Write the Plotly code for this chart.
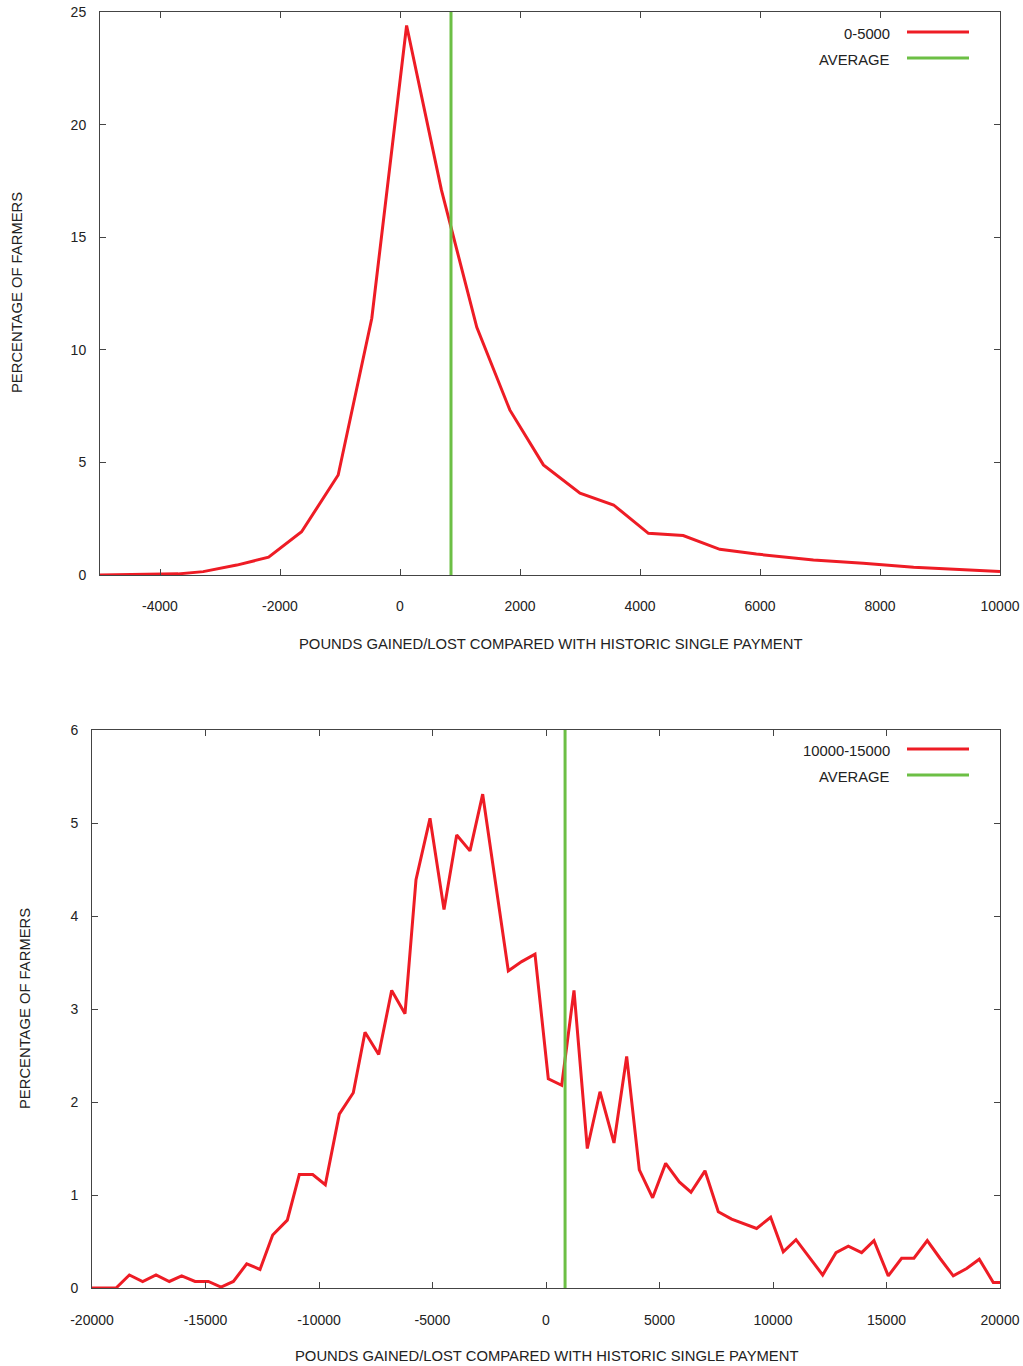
import plotly.graph_objects as go

# ---------------- data ----------------
TOP_NAME = "0-5000"
TOP_X = [-5000, -4230, -3700, -3280, -2720, -2190, -1640, -1030, -470, 110, 690,
         1280, 1830, 2390, 3000, 3560, 4140, 4720, 5330, 5940, 6890, 7720, 8560, 10000]
TOP_Y = [0, 0.02, 0.05, 0.15, 0.44, 0.79, 1.92, 4.44, 11.4, 24.4, 17.1,
         11.0, 7.33, 4.89, 3.63, 3.11, 1.85, 1.75, 1.14, 0.93, 0.67, 0.52, 0.34, 0.15]
TOP_AVG = 850

BOT_NAME = "10000-15000"
BOT_X = [-20000, -18940, -18354, -17768, -17180, -16594, -16050, -15460, -14874, -14315,
         -13772, -13184, -12599, -12040, -11396, -10868, -10278, -9722, -9106, -8489,
         -7973, -7370, -6798, -6211, -5727, -5110, -4493, -3934, -3348, -2789, -2220,
         -1660, -1071, -485, 101, 692, 1233, 1819, 2379, 2995, 3554, 4111, 4698, 5271,
         5872, 6387, 7004, 7590, 8178, 9279, 9896, 10453, 11013, 11600, 12188, 12775,
         13317, 13905, 14448, 15078, 15665, 16208, 16796, 17355, 17942, 18530, 19087,
         19704, 20000]
BOT_Y = [0, 0, 0.14, 0.07, 0.14, 0.07, 0.13, 0.07, 0.07, 0.01,
         0.07, 0.26, 0.20, 0.57, 0.73, 1.22, 1.22, 1.11, 1.87, 2.10,
         2.75, 2.51, 3.20, 2.95, 4.39, 5.05, 4.07, 4.87, 4.70, 5.31, 4.35,
         3.41, 3.51, 3.59, 2.25, 2.18, 3.20, 1.50, 2.11, 1.56, 2.49, 1.27, 0.97, 1.34,
         1.14, 1.03, 1.26, 0.82, 0.74, 0.64, 0.76, 0.39, 0.52, 0.33, 0.14, 0.38,
         0.45, 0.38, 0.51, 0.13, 0.32, 0.32, 0.51, 0.32, 0.13, 0.21, 0.31,
         0.06, 0.06]
BOT_AVG = 840

AVG_NAME = "AVERAGE"
X_TITLE = "POUNDS GAINED/LOST COMPARED WITH HISTORIC SINGLE PAYMENT"
Y_TITLE = "PERCENTAGE OF FARMERS"

TOP_XTICKS = [-4000, -2000, 0, 2000, 4000, 6000, 8000, 10000]
TOP_YTICKS = [0, 5, 10, 15, 20, 25]
BOT_XTICKS = [-20000, -15000, -10000, -5000, 0, 5000, 10000, 15000, 20000]
BOT_YTICKS = [0, 1, 2, 3, 4, 5, 6]

# ---------------- style ----------------
W, H = 1023, 1366
RED = "#ee1c25"
GREEN = "#6cbf45"
FONT = "Liberation Sans, Arial, sans-serif"
TXT = "#222222"
AX = "#444444"


def px(x):
    return x / W


def py(y):
    return 1 - y / H


def labels(vals):
    return [str(v) for v in vals]


fig = go.Figure()
fig.add_trace(go.Scatter(x=TOP_X, y=TOP_Y, mode="lines", name=TOP_NAME,
                         line=dict(color=RED, width=3), xaxis="x", yaxis="y",
                         showlegend=False))
fig.add_trace(go.Scatter(x=BOT_X, y=BOT_Y, mode="lines", name=BOT_NAME,
                         line=dict(color=RED, width=3), xaxis="x2", yaxis="y2",
                         showlegend=False))

axis_common = dict(showline=True, linecolor=AX, linewidth=1, mirror="ticks",
                   ticks="inside", ticklen=6, tickcolor=AX, tickwidth=1,
                   showgrid=False, zeroline=False, automargin=False,
                   tickfont=dict(family=FONT, size=14, color=TXT))

fig.update_layout(
    width=W, height=H,
    margin=dict(l=0, r=0, t=0, b=0),
    paper_bgcolor="white", plot_bgcolor="white",
    xaxis=dict(domain=[px(100), px(1000)], range=[-5000, 10000], tickvals=TOP_XTICKS,
               ticktext=labels(TOP_XTICKS), anchor="y", ticklabelstandoff=18, **axis_common),
    yaxis=dict(domain=[py(575), py(12)], range=[0, 25], tickvals=TOP_YTICKS,
               ticktext=labels(TOP_YTICKS), anchor="x", ticklabelstandoff=10, **axis_common),
    xaxis2=dict(domain=[px(92), px(1000)], range=[-20000, 20000], tickvals=BOT_XTICKS,
                ticktext=labels(BOT_XTICKS), anchor="y2", ticklabelstandoff=19, **axis_common),
    yaxis2=dict(domain=[py(1288), py(730)], range=[0, 6], tickvals=BOT_YTICKS,
                ticktext=labels(BOT_YTICKS), anchor="x2", ticklabelstandoff=10, **axis_common),
)

# average lines (full plot height)
fig.add_shape(type="line", xref="x", yref="y domain", x0=TOP_AVG, x1=TOP_AVG,
              y0=0, y1=1, line=dict(color=GREEN, width=3))
fig.add_shape(type="line", xref="x2", yref="y2 domain", x0=BOT_AVG, x1=BOT_AVG,
              y0=0, y1=1, line=dict(color=GREEN, width=3))

ann_font = dict(family=FONT, size=14.8, color=TXT)
# axis titles
fig.add_annotation(text=X_TITLE, x=px(550), y=py(644), xref="paper", yref="paper",
                   showarrow=False, font=ann_font, xanchor="center", yanchor="middle")
fig.add_annotation(text=X_TITLE, x=px(546), y=py(1356), xref="paper", yref="paper",
                   showarrow=False, font=ann_font, xanchor="center", yanchor="middle")
fig.add_annotation(text=Y_TITLE, x=px(17), y=py(293), xref="paper", yref="paper",
                   showarrow=False, font=ann_font, textangle=-90,
                   xanchor="center", yanchor="middle")
fig.add_annotation(text=Y_TITLE, x=px(25), y=py(1009), xref="paper", yref="paper",
                   showarrow=False, font=ann_font, textangle=-90,
                   xanchor="center", yanchor="middle")

# legends (text left of line sample, as in reference)
for name, color, ty in [(TOP_NAME, RED, 34), (AVG_NAME, GREEN, 60),
                        (BOT_NAME, RED, 751), (AVG_NAME, GREEN, 777)]:
    fig.add_annotation(text=name, x=px(892), y=py(ty), xref="paper", yref="paper",
                       showarrow=False, font=ann_font, xanchor="right", yanchor="middle")
    fig.add_shape(type="line", xref="paper", yref="paper",
                  x0=px(907), x1=px(969), y0=py(ty - 2), y1=py(ty - 2),
                  line=dict(color=color, width=3))

fig.write_html("out.html",
               config={"displayModeBar": False},
               post_script="document.body.style.margin='0';"
                           "document.body.style.padding='0';")
